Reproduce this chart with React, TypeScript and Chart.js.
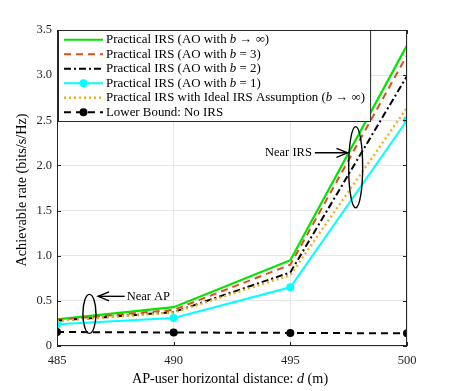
import { useEffect, useRef } from 'react';
import { Chart, registerables } from 'chart.js';
Chart.register(...registerables);

const FONT = '"Liberation Serif", "Times New Roman", serif';

// ---- data ----
const distances = [485, 490, 495, 500];
const aoInfVals = [0.295, 0.43, 0.95, 3.33];
const ao3Vals = [0.29, 0.40, 0.90, 3.22];
const ao2Vals = [0.28, 0.375, 0.815, 2.99];
const ao1Vals = [0.24, 0.31, 0.65, 2.50];
const idealVals = [0.28, 0.37, 0.785, 2.64];
const lowerVals = [0.155, 0.15, 0.145, 0.14];
const xTicks = [485, 490, 495, 500];
const yTicks = [0, 0.5, 1, 1.5, 2, 2.5, 3, 3.5];

type Seg = [string, boolean];
const legendLabels: Seg[][] = [
  [['Practical IRS (AO with ', false], ['b', true], [' \u2192 \u221E)', false]],
  [['Practical IRS (AO with ', false], ['b', true], [' = 3)', false]],
  [['Practical IRS (AO with ', false], ['b', true], [' = 2)', false]],
  [['Practical IRS (AO with ', false], ['b', true], [' = 1)', false]],
  [['Practical IRS with Ideal IRS Assumption (', false], ['b', true], [' \u2192 \u221E)', false]],
  [['Lower Bound: No IRS', false]],
];

// annotations (data coordinates)
const apEllipse = { cx: 486.39, cy: 0.356, rx: 0.28, ry: 0.216 };
const apArrow = { x0: 487.9, x1: 486.76, y: 0.55, text: 'Near AP' };
const irsEllipse = { cx: 497.8, cy: 1.98, rx: 0.3, ry: 0.45 };
const irsArrow = { x0: 496.05, x1: 497.45, y: 2.14, text: 'Near IRS' };

const seriesStyles = [
  { color: 'rgb(0,230,0)', dash: [] as number[], width: 2.2, marker: false },
  { color: 'rgb(217,83,25)', dash: [7, 5], width: 2, marker: false },
  { color: '#000000', dash: [7, 3, 2, 3], width: 2, marker: false },
  { color: 'rgb(0,255,255)', dash: [] as number[], width: 2, marker: true },
  { color: 'rgb(237,177,32)', dash: [2, 3], width: 2.4, marker: false },
  { color: '#000000', dash: [7, 5], width: 2, marker: true },
];

function fontStr(size: number, italic: boolean) {
  return `${italic ? 'italic ' : ''}${size}px ${FONT}`;
}

function richWidth(ctx: CanvasRenderingContext2D, segs: Seg[], size: number) {
  let w = 0;
  for (const [t, it] of segs) {
    ctx.font = fontStr(size, it);
    w += ctx.measureText(t).width;
  }
  return w;
}

function drawRich(ctx: CanvasRenderingContext2D, segs: Seg[], x: number, y: number, size: number, align: 'left' | 'center' | 'right') {
  const w = richWidth(ctx, segs, size);
  let cx = align === 'left' ? x : align === 'center' ? x - w / 2 : x - w;
  ctx.textAlign = 'left';
  ctx.textBaseline = 'middle';
  for (const [t, it] of segs) {
    ctx.font = fontStr(size, it);
    ctx.fillText(t, cx, y);
    cx += ctx.measureText(t).width;
  }
}

function arrow(ctx: CanvasRenderingContext2D, x0: number, y0: number, x1: number, y1: number) {
  ctx.beginPath();
  ctx.moveTo(x0, y0);
  ctx.lineTo(x1, y1);
  ctx.stroke();
  const ang = Math.atan2(y1 - y0, x1 - x0);
  const L = 11, W = 4.5;
  ctx.beginPath();
  ctx.moveTo(x1 - L * Math.cos(ang) + W * Math.sin(ang), y1 - L * Math.sin(ang) - W * Math.cos(ang));
  ctx.lineTo(x1, y1);
  ctx.lineTo(x1 - L * Math.cos(ang) - W * Math.sin(ang), y1 - L * Math.sin(ang) + W * Math.cos(ang));
  ctx.stroke();
}

const overlayPlugin = {
  id: 'overlay',
  afterDatasetsDraw(chart: any) {
    const ctx: CanvasRenderingContext2D = chart.ctx;
    const xs = chart.scales.x;
    const ys = chart.scales.y;
    const { left, right, top, bottom } = chart.chartArea;
    ctx.save();

    // axes box
    ctx.strokeStyle = '#262626';
    ctx.lineWidth = 1;
    ctx.setLineDash([]);
    ctx.strokeRect(left + 0.5, top + 0.5, right - left - 1, bottom - top - 1);
    // inward ticks
    const tl = 4;
    ctx.beginPath();
    for (const v of xTicks) {
      const px = Math.round(xs.getPixelForValue(v)) + 0.5;
      ctx.moveTo(px, bottom); ctx.lineTo(px, bottom - tl);
      ctx.moveTo(px, top); ctx.lineTo(px, top + tl);
    }
    for (const v of yTicks) {
      const py = Math.round(ys.getPixelForValue(v)) + 0.5;
      ctx.moveTo(left, py); ctx.lineTo(left + tl, py);
      ctx.moveTo(right, py); ctx.lineTo(right - tl, py);
    }
    ctx.stroke();

    // annotations
    ctx.strokeStyle = '#000';
    ctx.fillStyle = '#000';
    ctx.lineWidth = 1.4;
    for (const e of [apEllipse, irsEllipse]) {
      const cx = xs.getPixelForValue(e.cx);
      const cy = ys.getPixelForValue(e.cy);
      const rx = Math.abs(xs.getPixelForValue(e.cx + e.rx) - cx);
      const ry = Math.abs(ys.getPixelForValue(e.cy + e.ry) - cy);
      ctx.beginPath();
      ctx.ellipse(cx, cy, rx, ry, 0, 0, Math.PI * 2);
      ctx.stroke();
    }
    {
      const y = ys.getPixelForValue(apArrow.y);
      const x0 = xs.getPixelForValue(apArrow.x0);
      const x1 = xs.getPixelForValue(apArrow.x1);
      arrow(ctx, x0, y, x1, y);
      ctx.fillStyle = '#000';
      drawRich(ctx, [[apArrow.text, false]], x0 + 2, y, 12.5, 'left');
    }
    {
      const y = ys.getPixelForValue(irsArrow.y);
      const x0 = xs.getPixelForValue(irsArrow.x0);
      const x1 = xs.getPixelForValue(irsArrow.x1);
      arrow(ctx, x0, y, x1, y);
      drawRich(ctx, [[irsArrow.text, false]], x0 - 3, y, 12.5, 'right');
    }

    // legend
    const fs = 12.9;
    const rowH = 14.5;
    const lx = left + 1;
    const ly = top + 0;
    let maxW = 0;
    for (const l of legendLabels) maxW = Math.max(maxW, richWidth(ctx, l, fs));
    const boxW = 48 + maxW + 5;
    const boxH = rowH * legendLabels.length + 4;
    ctx.fillStyle = '#fff';
    ctx.fillRect(lx, ly, boxW, boxH);
    ctx.strokeStyle = '#262626';
    ctx.lineWidth = 1;
    ctx.setLineDash([]);
    ctx.strokeRect(lx + 0.5, ly + 0.5, boxW, boxH);
    legendLabels.forEach((lab, i) => {
      const st = seriesStyles[i];
      const y = ly + 2 + rowH * (i + 0.5) + 0.5;
      const sx0 = lx + 6, sx1 = lx + 45;
      ctx.strokeStyle = st.color;
      ctx.lineWidth = st.width;
      ctx.setLineDash(st.dash);
      ctx.beginPath();
      ctx.moveTo(sx0, y); ctx.lineTo(sx1, y);
      ctx.stroke();
      ctx.setLineDash([]);
      if (st.marker) {
        ctx.fillStyle = st.color;
        ctx.beginPath();
        ctx.arc((sx0 + sx1) / 2, y, 4, 0, Math.PI * 2);
        ctx.fill();
      }
      ctx.fillStyle = '#000';
      drawRich(ctx, lab, lx + 48, y, fs, 'left');
    });

    // axis titles
    ctx.fillStyle = '#000';
    drawRich(ctx, [['AP-user horizontal distance: ', false], ['d', true], [' (m)', false]], (left + right) / 2 - 2, 379, 14.2, 'center');
    ctx.save();
    ctx.translate(22, (top + bottom) / 2 + 2);
    ctx.rotate(-Math.PI / 2);
    drawRich(ctx, [['Achievable rate (bits/s/Hz)', false]], 0, 0, 14.2, 'center');
    ctx.restore();

    ctx.restore();
  },
};

const allVals = [aoInfVals, ao3Vals, ao2Vals, ao1Vals, idealVals, lowerVals];

export default function App() {
  const ref = useRef<HTMLCanvasElement>(null);
  useEffect(() => {
    if (!ref.current) return;
    const chart = new Chart(ref.current, {
      type: 'line',
      data: {
        datasets: allVals.map((vals, i) => {
          const st = seriesStyles[i];
          return {
            label: 'series' + i,
            data: distances.map((d, j) => ({ x: d, y: vals[j] })),
            borderColor: st.color,
            backgroundColor: st.color,
            borderWidth: st.width,
            borderDash: st.dash,
            pointRadius: st.marker ? 4 : 0,
            pointBorderWidth: 0,
            pointBackgroundColor: st.color,
            tension: 0,
            fill: false,
          };
        }).reverse() as any,
      },
      options: {
        responsive: false,
        animation: false,
        layout: { padding: { top: 30, right: 42, left: 0, bottom: 0 } },
        plugins: { legend: { display: false }, tooltip: { enabled: false } },
        scales: {
          x: {
            type: 'linear',
            min: 485,
            max: 500,
            afterBuildTicks: (s: any) => { s.ticks = xTicks.map((v) => ({ value: v })); },
            afterFit: (s: any) => { s.height = 45; },
            ticks: { font: { family: FONT, size: 12.5 }, color: '#262626', padding: 7, maxRotation: 0 },
            grid: { color: '#e6e6e6', drawTicks: false },
            border: { display: false },
          },
          y: {
            min: 0,
            max: 3.5,
            afterBuildTicks: (s: any) => { s.ticks = yTicks.map((v) => ({ value: v })); },
            afterFit: (s: any) => { s.width = 57; },
            ticks: { font: { family: FONT, size: 12.5 }, color: '#262626', padding: 5 },
            grid: { color: '#e6e6e6', drawTicks: false },
            border: { display: false },
          },
        },
      },
      plugins: [overlayPlugin],
    } as any);
    return () => chart.destroy();
  }, []);
  return (
    <div style={{ position: 'absolute', left: 0, top: 0, width: 449, height: 391, background: '#fff' }}>
      <canvas ref={ref} width={449} height={391} style={{ width: 449, height: 391 }} />
    </div>
  );
}
